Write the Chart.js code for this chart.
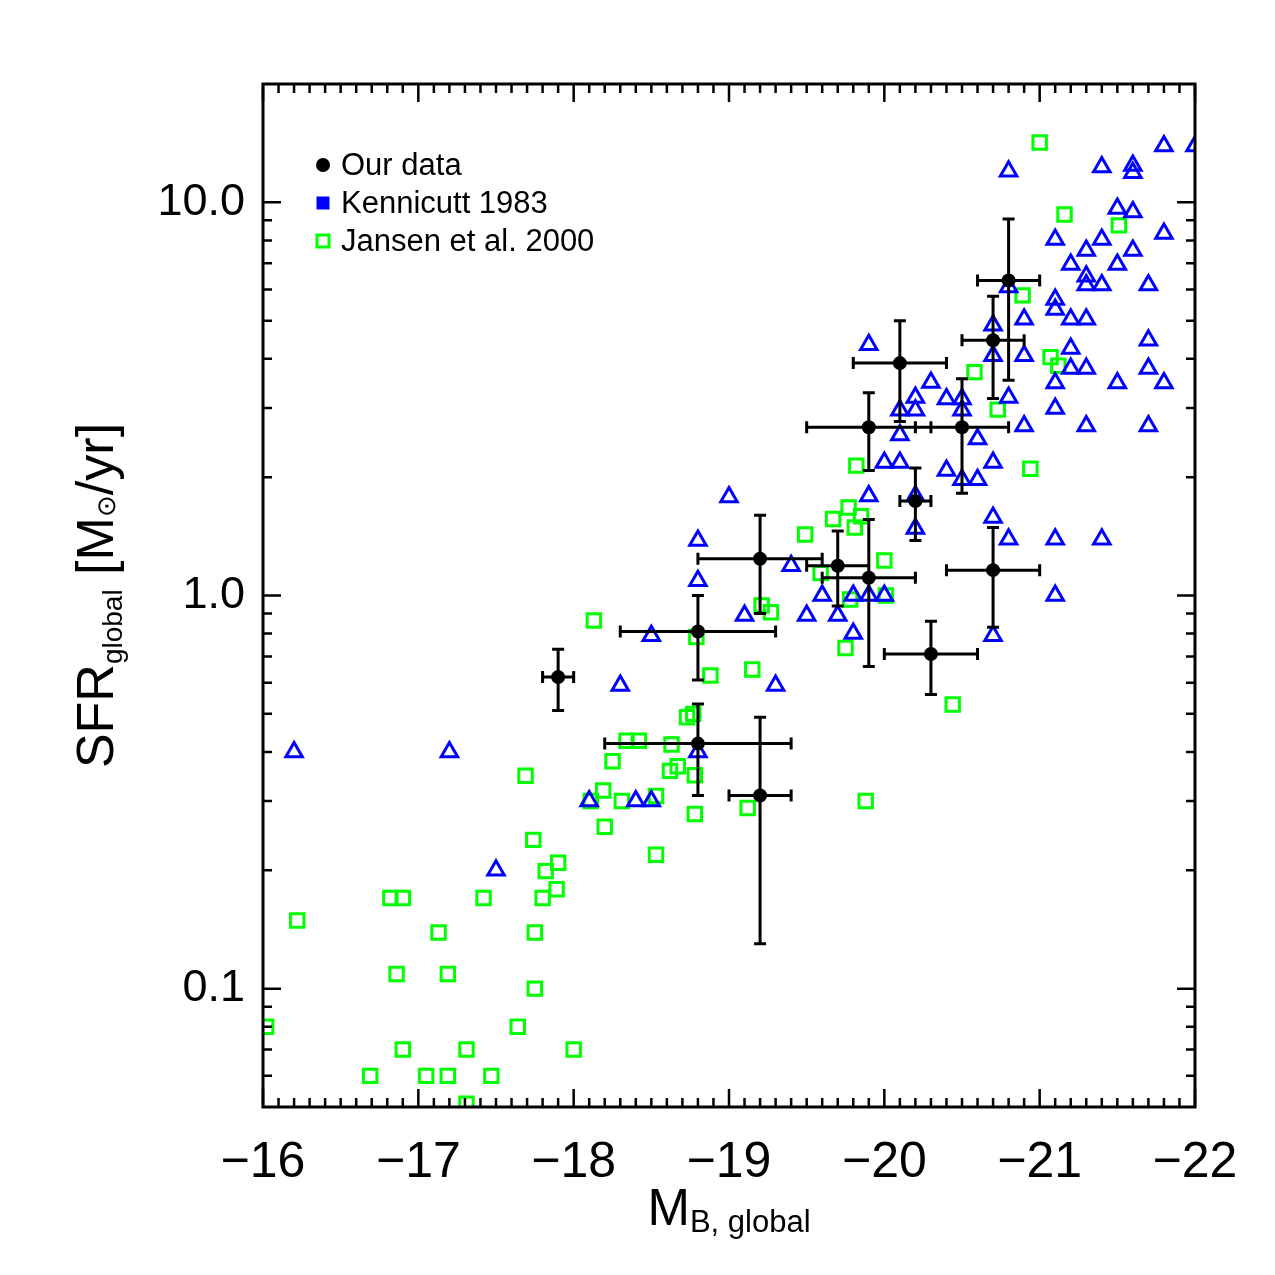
<!DOCTYPE html>
<html>
<head>
<meta charset="utf-8">
<title>SFR vs M_B</title>
<script src="https://cdn.jsdelivr.net/npm/chart.js@4.4.1/dist/chart.umd.min.js"></script>
<style>
  html, body { margin: 0; padding: 0; background: #fff; }
  #wrap { width: 1275px; height: 1275px; }
</style>
</head>
<body>
<div id="wrap"><canvas id="sfrChart" width="1275" height="1275"></canvas></div>
<script>
// Our data: magnitude, SFR, magnitude error, lower / upper SFR
const ourM     = [-17.9, -18.8, -18.8, -19.2, -19.2, -19.7, -19.9, -19.9, -20.5, -20.2, -20.1, -20.8, -20.7, -20.7, -20.3];
const ourSFR   = [0.62, 0.81, 0.42, 0.31, 1.24, 1.19, 1.11, 2.68, 2.68, 1.74, 3.90, 6.33, 4.46, 1.16, 0.71];
const ourMErr  = [0.1, 0.5, 0.6, 0.2, 0.4, 0.2, 0.3, 0.4, 0.3, 0.1, 0.3, 0.2, 0.2, 0.3, 0.3];
const ourSFRLo = [0.51, 0.61, 0.31, 0.13, 0.90, 0.94, 0.66, 2.08, 1.82, 1.38, 2.77, 3.53, 3.17, 0.83, 0.56];
const ourSFRHi = [0.73, 1.00, 0.53, 0.49, 1.60, 1.46, 1.56, 3.28, 3.56, 2.11, 5.00, 9.07, 5.77, 1.49, 0.86];

// Kennicutt 1983
const kenM = [-16.2, -17.2, -17.5, -18.1, -18.4, -18.5, -18.5, -18.3, -18.8, -18.8, -18.8, -19.0, -19.1, -19.3,
  -19.4, -19.5, -19.6, -19.7, -19.8, -19.8, -19.9, -19.9, -19.9, -20.0, -20.0, -20.1, -20.1, -20.1, -20.2, -20.2,
  -20.2, -20.2, -20.3, -20.4, -20.4, -20.5, -20.5, -20.5, -20.6, -20.6, -20.7, -20.7, -20.7, -20.7, -20.7, -20.8,
  -20.8, -20.8, -20.8, -20.9, -20.9, -20.9, -21.1, -21.1, -21.1, -21.1, -21.1, -21.1, -21.1, -21.2, -21.2, -21.2,
  -21.2, -21.3, -21.3, -21.3, -21.3, -21.3, -21.3, -21.4, -21.4, -21.4, -21.4, -21.5, -21.5, -21.5, -21.6, -21.6,
  -21.6, -21.6, -21.7, -21.7, -21.7, -21.7, -21.8, -21.8, -21.8, -22.0];
const kenSFR = [0.40, 0.40, 0.20, 0.30, 0.30, 0.30, 0.79, 0.59, 0.40, 1.09, 1.38, 1.78, 0.89, 0.59,
  1.19, 0.89, 1.00, 0.89, 1.00, 0.80, 1.00, 1.79, 4.34, 1.00, 2.18, 2.18, 2.56, 2.96, 2.96, 3.19,
  1.79, 1.48, 3.48, 3.16, 2.08, 3.16, 2.96, 1.97, 1.97, 2.50, 2.18, 1.58, 0.79, 4.07, 4.87, 1.39,
  3.19, 6.09, 12.0, 2.70, 4.07, 5.04, 1.00, 1.39, 2.99, 3.47, 5.34, 5.66, 8.04, 3.78, 4.25, 5.04,
  6.95, 2.70, 3.78, 5.04, 6.16, 6.49, 7.54, 1.39, 6.16, 8.04, 12.3, 3.47, 6.95, 9.64, 7.54, 9.45,
  12.4, 11.9, 2.70, 3.78, 4.46, 6.16, 3.47, 8.33, 13.9, 13.9];

// Jansen et al. 2000
const janM = [-16.02, -16.22, -16.69, -16.82, -16.86, -16.90, -16.90, -17.05, -17.13, -17.19, -17.19, -17.31,
  -17.31, -17.42, -17.47, -17.64, -17.69, -17.74, -17.75, -17.75, -17.80, -17.82, -17.89, -17.90, -18.00,
  -18.11, -18.13, -18.19, -18.20, -18.25, -18.31, -18.34, -18.42, -18.53, -18.53, -18.62, -18.63, -18.67,
  -18.73, -18.77, -18.78, -18.78, -18.79, -18.88, -19.12, -19.15, -19.21, -19.27, -19.49, -19.59, -19.67,
  -19.75, -19.77, -19.78, -19.81, -19.82, -19.85, -19.88, -20.00, -20.01, -20.44, -20.58, -20.73, -20.89,
  -20.94, -21.00, -21.07, -21.12, -21.16, -21.51];
const janSFR = [0.080, 0.149, 0.060, 0.170, 0.109, 0.170, 0.070, 0.060, 0.139, 0.109, 0.060, 0.070,
  0.051, 0.170, 0.060, 0.080, 0.348, 0.239, 0.139, 0.100, 0.170, 0.199, 0.179, 0.209, 0.070,
  0.300, 0.864, 0.319, 0.258, 0.379, 0.300, 0.427, 0.427, 0.309, 0.219, 0.358, 0.418, 0.368,
  0.490, 0.500, 0.349, 0.278, 0.784, 0.626, 0.288, 0.648, 0.943, 0.907, 1.43, 1.14, 1.565,
  0.735, 1.675, 0.977, 1.49, 2.14, 1.59, 0.300, 1.227, 1.00, 0.528, 3.70, 2.97, 5.80,
  2.10, 14.2, 4.04, 3.84, 9.31, 8.74];

// axes
const xTickValues = [-22, -21, -20, -19, -18, -17, -16];
const xTickLabels = ['\u221222', '\u221221', '\u221220', '\u221219', '\u221218', '\u221217', '\u221216'];
const yTickValues = [0.1, 1, 10];
const yTickLabels = ['0.1', '1.0', '10.0'];

const toPoints = (xs, ys) => xs.map((v, i) => ({ x: v, y: ys[i] }));

// error bars drawn just before the "Our data" dots
const errorBars = {
    id: 'errorBars',
    beforeDatasetDraw(chart, args) {
        if (args.index !== 0) return;
        const { ctx, scales: { x, y } } = chart;
        const cap = 6;
        ctx.save();
        ctx.strokeStyle = '#000';
        ctx.lineWidth = 3;
        ctx.beginPath();
        ourM.forEach((m, i) => {
            const px = x.getPixelForValue(m);
            const py = y.getPixelForValue(ourSFR[i]);
            const x0 = x.getPixelForValue(m - ourMErr[i]);
            const x1 = x.getPixelForValue(m + ourMErr[i]);
            const y0 = y.getPixelForValue(ourSFRLo[i]);
            const y1 = y.getPixelForValue(ourSFRHi[i]);
            ctx.moveTo(x0, py); ctx.lineTo(x1, py);
            ctx.moveTo(x0, py - cap); ctx.lineTo(x0, py + cap);
            ctx.moveTo(x1, py - cap); ctx.lineTo(x1, py + cap);
            ctx.moveTo(px, y0); ctx.lineTo(px, y1);
            ctx.moveTo(px - cap, y0); ctx.lineTo(px + cap, y0);
            ctx.moveTo(px - cap, y1); ctx.lineTo(px + cap, y1);
        });
        ctx.stroke();
        ctx.restore();
    }
};

// box with inward ticks on all four sides
const frame = {
    id: 'frame',
    afterDatasetsDraw(chart) {
        const { ctx, chartArea: a, scales: { x, y } } = chart;
        ctx.save();
        ctx.strokeStyle = '#000';
        ctx.lineWidth = 2.5;
        ctx.beginPath();
        for (let k = 0; k <= 60; k++) {
            const px = x.getPixelForValue(-22 + k / 10);
            const len = k % 10 === 0 ? 18 : 9;
            ctx.moveTo(px, a.bottom); ctx.lineTo(px, a.bottom - len);
            ctx.moveTo(px, a.top); ctx.lineTo(px, a.top + len);
        }
        for (let e = -2; e <= 1; e++) {
            for (let k = 1; k <= 9; k++) {
                const v = k * Math.pow(10, e);
                if (v <= y.min || v >= y.max) continue;
                const py = y.getPixelForValue(v);
                const len = k === 1 ? 18 : 9;
                ctx.moveTo(a.left, py); ctx.lineTo(a.left + len, py);
                ctx.moveTo(a.right, py); ctx.lineTo(a.right - len, py);
            }
        }
        ctx.stroke();
        ctx.lineWidth = 3;
        ctx.strokeRect(a.left, a.top, a.right - a.left, a.bottom - a.top);
        ctx.restore();
    }
};

// axis titles with subscripts, and the legend in the upper left
const labels = {
    id: 'labels',
    afterDraw(chart) {
        const { ctx, chartArea: a } = chart;
        const fam = '"Liberation Sans", Arial, Helvetica, sans-serif';
        ctx.save();
        ctx.fillStyle = '#000';
        ctx.textBaseline = 'alphabetic';
        ctx.textAlign = 'left';

        // x title: M_B, global
        ctx.font = '51px ' + fam;
        const wM = ctx.measureText('M').width;
        ctx.font = '31px ' + fam;
        const wSub = ctx.measureText('B, global').width;
        let sx = (a.left + a.right) / 2 - (wM + wSub) / 2;
        ctx.font = '51px ' + fam;
        ctx.fillText('M', sx, 1225);
        ctx.font = '31px ' + fam;
        ctx.fillText('B, global', sx + wM, 1232);

        // y title: SFR_global [M_sun/yr]
        const parts = [
            { t: 'SFR', size: 52, dy: 0 },
            { t: 'global', size: 28, dy: 9 },
            { t: ' [M', size: 52, dy: 0 },
            { t: '\u2299', size: 26, dy: 2 },
            { t: '/yr]', size: 52, dy: 0 }
        ];
        let total = 0;
        parts.forEach(p => { ctx.font = p.size + 'px ' + fam; p.w = ctx.measureText(p.t).width; total += p.w; });
        ctx.translate(113, (a.top + a.bottom) / 2);
        ctx.rotate(-Math.PI / 2);
        let cx = -total / 2;
        parts.forEach(p => {
            ctx.font = p.size + 'px ' + fam;
            ctx.fillText(p.t, cx, p.dy);
            cx += p.w;
        });
        ctx.setTransform(1, 0, 0, 1, 0, 0);
        ctx.restore();

        // legend
        ctx.save();
        const lx = a.left + 60, tx = a.left + 78;
        const rows = [a.top + 81, a.top + 119, a.top + 157];
        const ds = chart.data.datasets;
        ctx.font = '31px ' + fam;
        ctx.fillStyle = '#000';
        ctx.textBaseline = 'middle';
        ds.forEach((d, i) => {
            const cy = rows[i];
            if (i === 0) {
                ctx.beginPath(); ctx.arc(lx, cy, 7, 0, Math.PI * 2); ctx.fillStyle = d.backgroundColor; ctx.fill();
            } else if (i === 1) {
                ctx.fillStyle = d.borderColor; ctx.fillRect(lx - 6.5, cy - 6.5, 13, 13);
            } else {
                ctx.strokeStyle = d.borderColor; ctx.lineWidth = 3; ctx.strokeRect(lx - 6, cy - 6, 12, 12);
            }
            ctx.fillStyle = '#000';
            ctx.fillText(d.label, tx, cy + 1);
        });
        ctx.restore();
    }
};

const ctx = document.getElementById('sfrChart').getContext('2d');
const chart = new Chart(ctx, {
    type: 'scatter',
    data: {
        datasets: [
            {
                label: 'Our data',
                data: toPoints(ourM, ourSFR),
                pointStyle: 'circle',
                pointRadius: 7,
                pointHoverRadius: 7,
                backgroundColor: '#000',
                borderColor: '#000',
                borderWidth: 0,
                order: 0,
                clip: 0
            },
            {
                label: 'Kennicutt 1983',
                data: toPoints(kenM, kenSFR),
                pointStyle: 'triangle',
                pointRadius: 9.5,
                pointHoverRadius: 9.5,
                backgroundColor: 'rgba(0,0,0,0)',
                borderColor: '#0000ff',
                borderWidth: 3,
                order: 1,
                clip: 0
            },
            {
                label: 'Jansen et al. 2000',
                data: toPoints(janM, janSFR),
                pointStyle: 'rect',
                pointRadius: 9.5,
                pointHoverRadius: 9.5,
                backgroundColor: 'rgba(0,0,0,0)',
                borderColor: '#00ff00',
                borderWidth: 3,
                order: 2,
                clip: 0
            }
        ]
    },
    options: {
        responsive: false,
        animation: false,
        events: [],
        layout: { padding: { top: 84, right: 80, left: 0, bottom: 0 } },
        plugins: {
            legend: { display: false },
            tooltip: { enabled: false }
        },
        scales: {
            x: {
                type: 'linear',
                min: -22,
                max: -16,
                reverse: true,
                grid: { display: false, drawTicks: false },
                border: { display: false },
                afterBuildTicks: s => { s.ticks = xTickValues.map(v => ({ value: v })); },
                afterFit: s => { s.height = 168; },
                ticks: {
                    padding: 26,
                    color: '#000',
                    maxRotation: 0,
                    font: { family: '"Liberation Sans Narrow", "Liberation Sans", Arial', size: 50 },
                    callback: (v, i) => xTickLabels[i]
                }
            },
            y: {
                type: 'logarithmic',
                min: 0.05,
                max: 20,
                grid: { display: false, drawTicks: false },
                border: { display: false },
                afterBuildTicks: s => { s.ticks = yTickValues.map(v => ({ value: v })); },
                afterFit: s => { s.width = 263; },
                ticks: {
                    padding: 18,
                    color: '#000',
                    font: { family: '"Liberation Sans", Arial', size: 45 },
                    callback: (v, i) => yTickLabels[i]
                }
            }
        }
    },
    plugins: [errorBars, frame, labels]
});
</script>
</body>
</html>
